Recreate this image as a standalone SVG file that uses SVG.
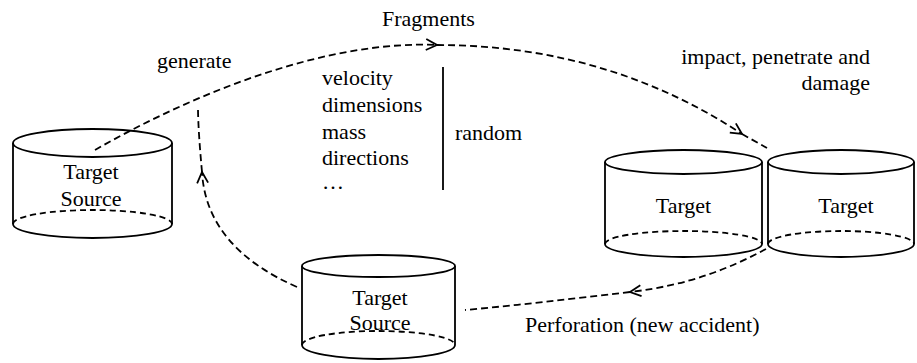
<svg xmlns="http://www.w3.org/2000/svg" width="917" height="363" viewBox="0 0 917 363" font-family="'Liberation Serif', 'DejaVu Serif', 'Times New Roman', serif">
<style>
text{font-family:'Liberation Serif','DejaVu Serif','Times New Roman',serif;font-size:22px;fill:#000}
.c{text-anchor:middle}
.s{fill:none;stroke:#000;stroke-width:1.8}
.d{fill:none;stroke:#000;stroke-width:1.8;stroke-dasharray:7 4}
.e{fill:none;stroke:#000;stroke-width:1.8;stroke-dasharray:6 4}
</style>
<defs>
<marker id="arr" viewBox="0 0 14 14" refX="12" refY="7" markerWidth="14" markerHeight="14" markerUnits="userSpaceOnUse" orient="auto">
<path d="M1,1.5 L12,7 L1,12.5" fill="none" stroke="#000" stroke-width="1.8"/>
</marker>
</defs>
<rect width="917" height="363" fill="#fff"/>
<g id="connectors">
<path class="d" d="M95,150 C200,90 330,40 437,45" marker-end="url(#arr)"/>
<path class="d" d="M437,45 C560,45 660,80 742,134" marker-end="url(#arr)"/>
<path class="d" d="M742,134 L767,148"/>
<path class="d" d="M766,249 C730,268 690,285 630,292" marker-end="url(#arr)"/>
<path class="d" d="M630,292 C570,299 520,305 465,310"/>
<path class="d" d="M297,287 C240,262 205,225 202,172" marker-end="url(#arr)"/>
<path class="d" d="M202,172 C200,150 198,125 198,107"/>
</g>
<g id="source-left">
<ellipse class="s" cx="92.5" cy="143" rx="79.5" ry="14"/>
<path class="s" d="M13,143 V224 A79.5,14 0 0 0 172,224 V143"/>
<path class="e" d="M13,224 A79.5,14 0 0 1 172,224"/>
<text class="c" x="91" y="179">Target</text>
<text class="c" x="91" y="206">Source</text>
</g>
<g id="source-bottom">
<ellipse class="s" cx="378.5" cy="266" rx="76.5" ry="11"/>
<path class="s" d="M302,266 V345 A76.5,14 0 0 0 455,345 V266"/>
<path class="e" d="M302,345 A76.5,14 0 0 1 455,345"/>
<text class="c" x="380" y="305">Target</text>
<text class="c" x="380" y="330">Source</text>
</g>
<g id="target-1">
<ellipse class="s" cx="683.5" cy="162" rx="78.5" ry="12"/>
<path class="s" d="M605,162 V244 A78.5,13 0 0 0 762,244 V162"/>
<path class="e" d="M605,244 A78.5,13 0 0 1 762,244"/>
<text class="c" x="683.5" y="213">Target</text>
</g>
<g id="target-2">
<ellipse class="s" cx="841" cy="162" rx="73" ry="12"/>
<path class="s" d="M768,162 V244 A73,13 0 0 0 914,244 V162"/>
<path class="e" d="M768,244 A73,13 0 0 1 914,244"/>
<text class="c" x="846" y="213">Target</text>
</g>
<g id="labels">
<text x="382" y="26">Fragments</text>
<text x="157" y="68">generate</text>
<text x="870" y="64" text-anchor="end">impact, penetrate and</text>
<text x="870" y="90" text-anchor="end">damage</text>
<text x="525" y="332">Perforation (new accident)</text>
</g>
<g id="attributes">
<text x="322" y="85">velocity</text>
<text x="322" y="112">dimensions</text>
<text x="322" y="139">mass</text>
<text x="322" y="165">directions</text>
<text x="322" y="189">…</text>
<line class="s" x1="443" y1="67" x2="443" y2="190"/>
<text x="455" y="140">random</text>
</g>
</svg>
